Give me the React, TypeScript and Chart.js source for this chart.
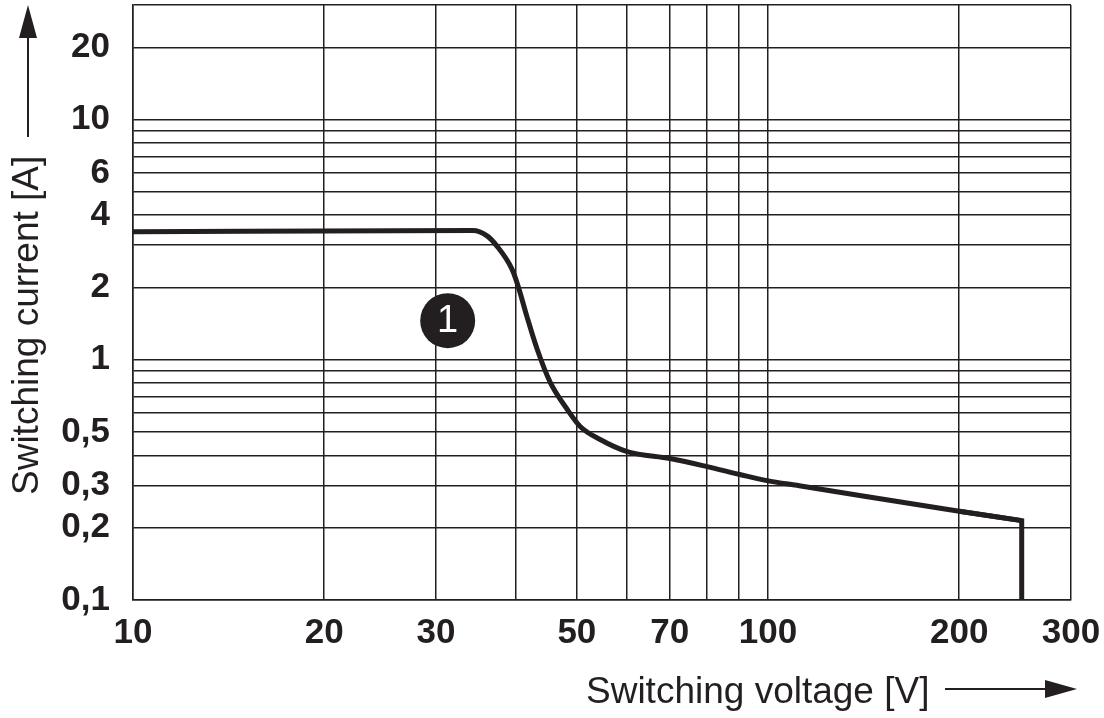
import React, { useEffect, useRef } from "react";
import { Chart, registerables } from "chart.js";

Chart.register(...registerables);

// Curve data (log-log)
const voltage = [10, 34.3, 36.1, 37.4, 39.5, 40.4, 41.7, 43.3, 45.4, 48.3, 50.6, 54.4, 60.0, 70.1, 80.2, 90.3, 99.6, 112, 200, 250.9];
const current = [3.41, 3.45, 3.28, 2.98, 2.39, 2.03, 1.52, 1.106, 0.805, 0.621, 0.528, 0.466, 0.415, 0.388, 0.359, 0.333, 0.314, 0.299, 0.234, 0.214];

// vertical cut-off at the end of the curve
const cutoffVoltage = [200, 250.9, 250.9];
const cutoffCurrent = [0.234, 0.214, 0.1];

// marker "1"
const markerVoltage = [31.3];
const markerCurrent = [1.455];
const markerText = "1";

const xMin = 10;
const xMax = 300;
const yMin = 0.1;
const yMax = 30;

const xTickValues = [10, 20, 30, 40, 50, 60, 70, 80, 90, 100, 200, 300];
const xLabelValues = [10, 20, 30, 50, 70, 100, 200, 300];
const xLabelTexts = ["10", "20", "30", "50", "70", "100", "200", "300"];

const yTickValues = [0.1, 0.2, 0.3, 0.4, 0.5, 0.6, 0.7, 0.8, 0.9, 1, 2, 3, 4, 5, 6, 7, 8, 9, 10, 20, 30];
const yLabelValues = [0.1, 0.2, 0.3, 0.5, 1, 2, 4, 6, 10, 20];
const yLabelTexts = ["0,1", "0,2", "0,3", "0,5", "1", "2", "4", "6", "10", "20"];

const xTitle = "Switching voltage [V]";
const yTitle = "Switching current [A]";

const INK = "#231f20";
const FONT = "'Liberation Sans', Arial, Helvetica, sans-serif";

function labelFor(values: number[], texts: string[], v: number): string {
  const i = values.findIndex((x) => Math.abs(x - v) < 1e-9);
  return i >= 0 ? texts[i] : "";
}

const decorPlugin = {
  id: "decor",
  afterDatasetsDraw(chart: any) {
    const ctx = chart.ctx;
    const meta = chart.getDatasetMeta(2);
    const pt = meta && meta.data && meta.data[0];
    if (pt) {
      ctx.save();
      ctx.fillStyle = "#ffffff";
      ctx.font = `38px ${FONT}`;
      ctx.textAlign = "center";
      ctx.textBaseline = "middle";
      ctx.fillText(markerText, pt.x, pt.y + 1);
      ctx.restore();
    }
  },
  afterDraw(chart: any) {
    const ctx = chart.ctx;
    ctx.save();
    ctx.fillStyle = INK;
    ctx.strokeStyle = INK;
    ctx.font = `37px ${FONT}`;
    ctx.textBaseline = "alphabetic";
    ctx.textAlign = "left";
    // x title
    ctx.fillText(xTitle, 586, 703);
    // x arrow
    ctx.lineWidth = 2;
    ctx.beginPath();
    ctx.moveTo(945, 689);
    ctx.lineTo(1047, 689);
    ctx.stroke();
    ctx.beginPath();
    ctx.moveTo(1077, 689);
    ctx.lineTo(1045, 680);
    ctx.lineTo(1045, 698);
    ctx.closePath();
    ctx.fill();
    // y title
    ctx.save();
    ctx.translate(38, 495);
    ctx.rotate(-Math.PI / 2);
    ctx.fillText(yTitle, 0, 0);
    ctx.restore();
    // y arrow
    ctx.beginPath();
    ctx.moveTo(28, 137);
    ctx.lineTo(28, 36);
    ctx.stroke();
    ctx.beginPath();
    ctx.moveTo(28, 5);
    ctx.lineTo(19, 38);
    ctx.lineTo(37, 38);
    ctx.closePath();
    ctx.fill();
    ctx.restore();
  },
};

export default function App() {
  const ref = useRef<HTMLCanvasElement | null>(null);

  useEffect(() => {
    if (!ref.current) return;
    const curve = voltage.map((v, i) => ({ x: v, y: current[i] }));
    const cutoff = cutoffVoltage.map((v, i) => ({ x: v, y: cutoffCurrent[i] }));
    const marker = markerVoltage.map((v, i) => ({ x: v, y: markerCurrent[i] }));

    const chart = new Chart(ref.current, {
      type: "line",
      data: {
        datasets: [
          {
            data: curve,
            borderColor: INK,
            borderWidth: 5,
            pointRadius: 0,
            cubicInterpolationMode: "monotone",
            fill: false,
          },
          {
            data: cutoff,
            borderColor: INK,
            borderWidth: 5,
            pointRadius: 0,
            tension: 0,
            borderJoinStyle: "miter",
            fill: false,
          },
          {
            data: marker,
            showLine: false,
            pointRadius: 27.5,
            pointBackgroundColor: INK,
            pointBorderColor: INK,
            pointBorderWidth: 0,
          },
        ],
      } as any,
      options: {
        animation: false,
        responsive: false,
        events: [],
        layout: { autoPadding: false, padding: { top: 5, right: 33, left: 0, bottom: 0 } },
        plugins: { legend: { display: false }, tooltip: { enabled: false } },
        scales: {
          x: {
            type: "logarithmic",
            min: xMin,
            max: xMax,
            afterBuildTicks: (scale: any) => {
              scale.ticks = xTickValues.map((v) => ({ value: v }));
            },
            afterFit: (scale: any) => {
              scale.height = 118;
              scale.paddingLeft = 0;
              scale.paddingRight = 0;
              scale.paddingTop = 0;
              scale.paddingBottom = 0;
            },
            ticks: {
              autoSkip: false,
              maxRotation: 0,
              minRotation: 0,
              padding: 12,
              color: INK,
              font: { family: FONT, size: 35, weight: "bold" },
              callback: (v: any) => labelFor(xLabelValues, xLabelTexts, Number(v)),
            },
            grid: { color: INK, lineWidth: 1.5, drawTicks: false },
            border: { display: true, color: INK, width: 1.5 },
          },
          y: {
            type: "logarithmic",
            min: yMin,
            max: yMax,
            afterBuildTicks: (scale: any) => {
              scale.ticks = yTickValues.map((v) => ({ value: v }));
            },
            afterFit: (scale: any) => {
              scale.width = 133;
              scale.paddingLeft = 0;
              scale.paddingRight = 0;
              scale.paddingTop = 0;
              scale.paddingBottom = 0;
            },
            ticks: {
              autoSkip: false,
              padding: 23,
              color: INK,
              font: { family: FONT, size: 35, weight: "bold" },
              callback: (v: any) => labelFor(yLabelValues, yLabelTexts, Number(v)),
            },
            grid: { color: INK, lineWidth: 1.5, drawTicks: false },
            border: { display: true, color: INK, width: 1.5 },
          },
        },
      } as any,
      plugins: [decorPlugin],
    });
    return () => chart.destroy();
  }, []);

  return (
    <div style={{ position: "fixed", left: 0, top: 0, width: 1104, height: 718, background: "#fff" }}>
      <canvas ref={ref} width={1104} height={718} style={{ display: "block", width: 1104, height: 718 }} />
    </div>
  );
}
